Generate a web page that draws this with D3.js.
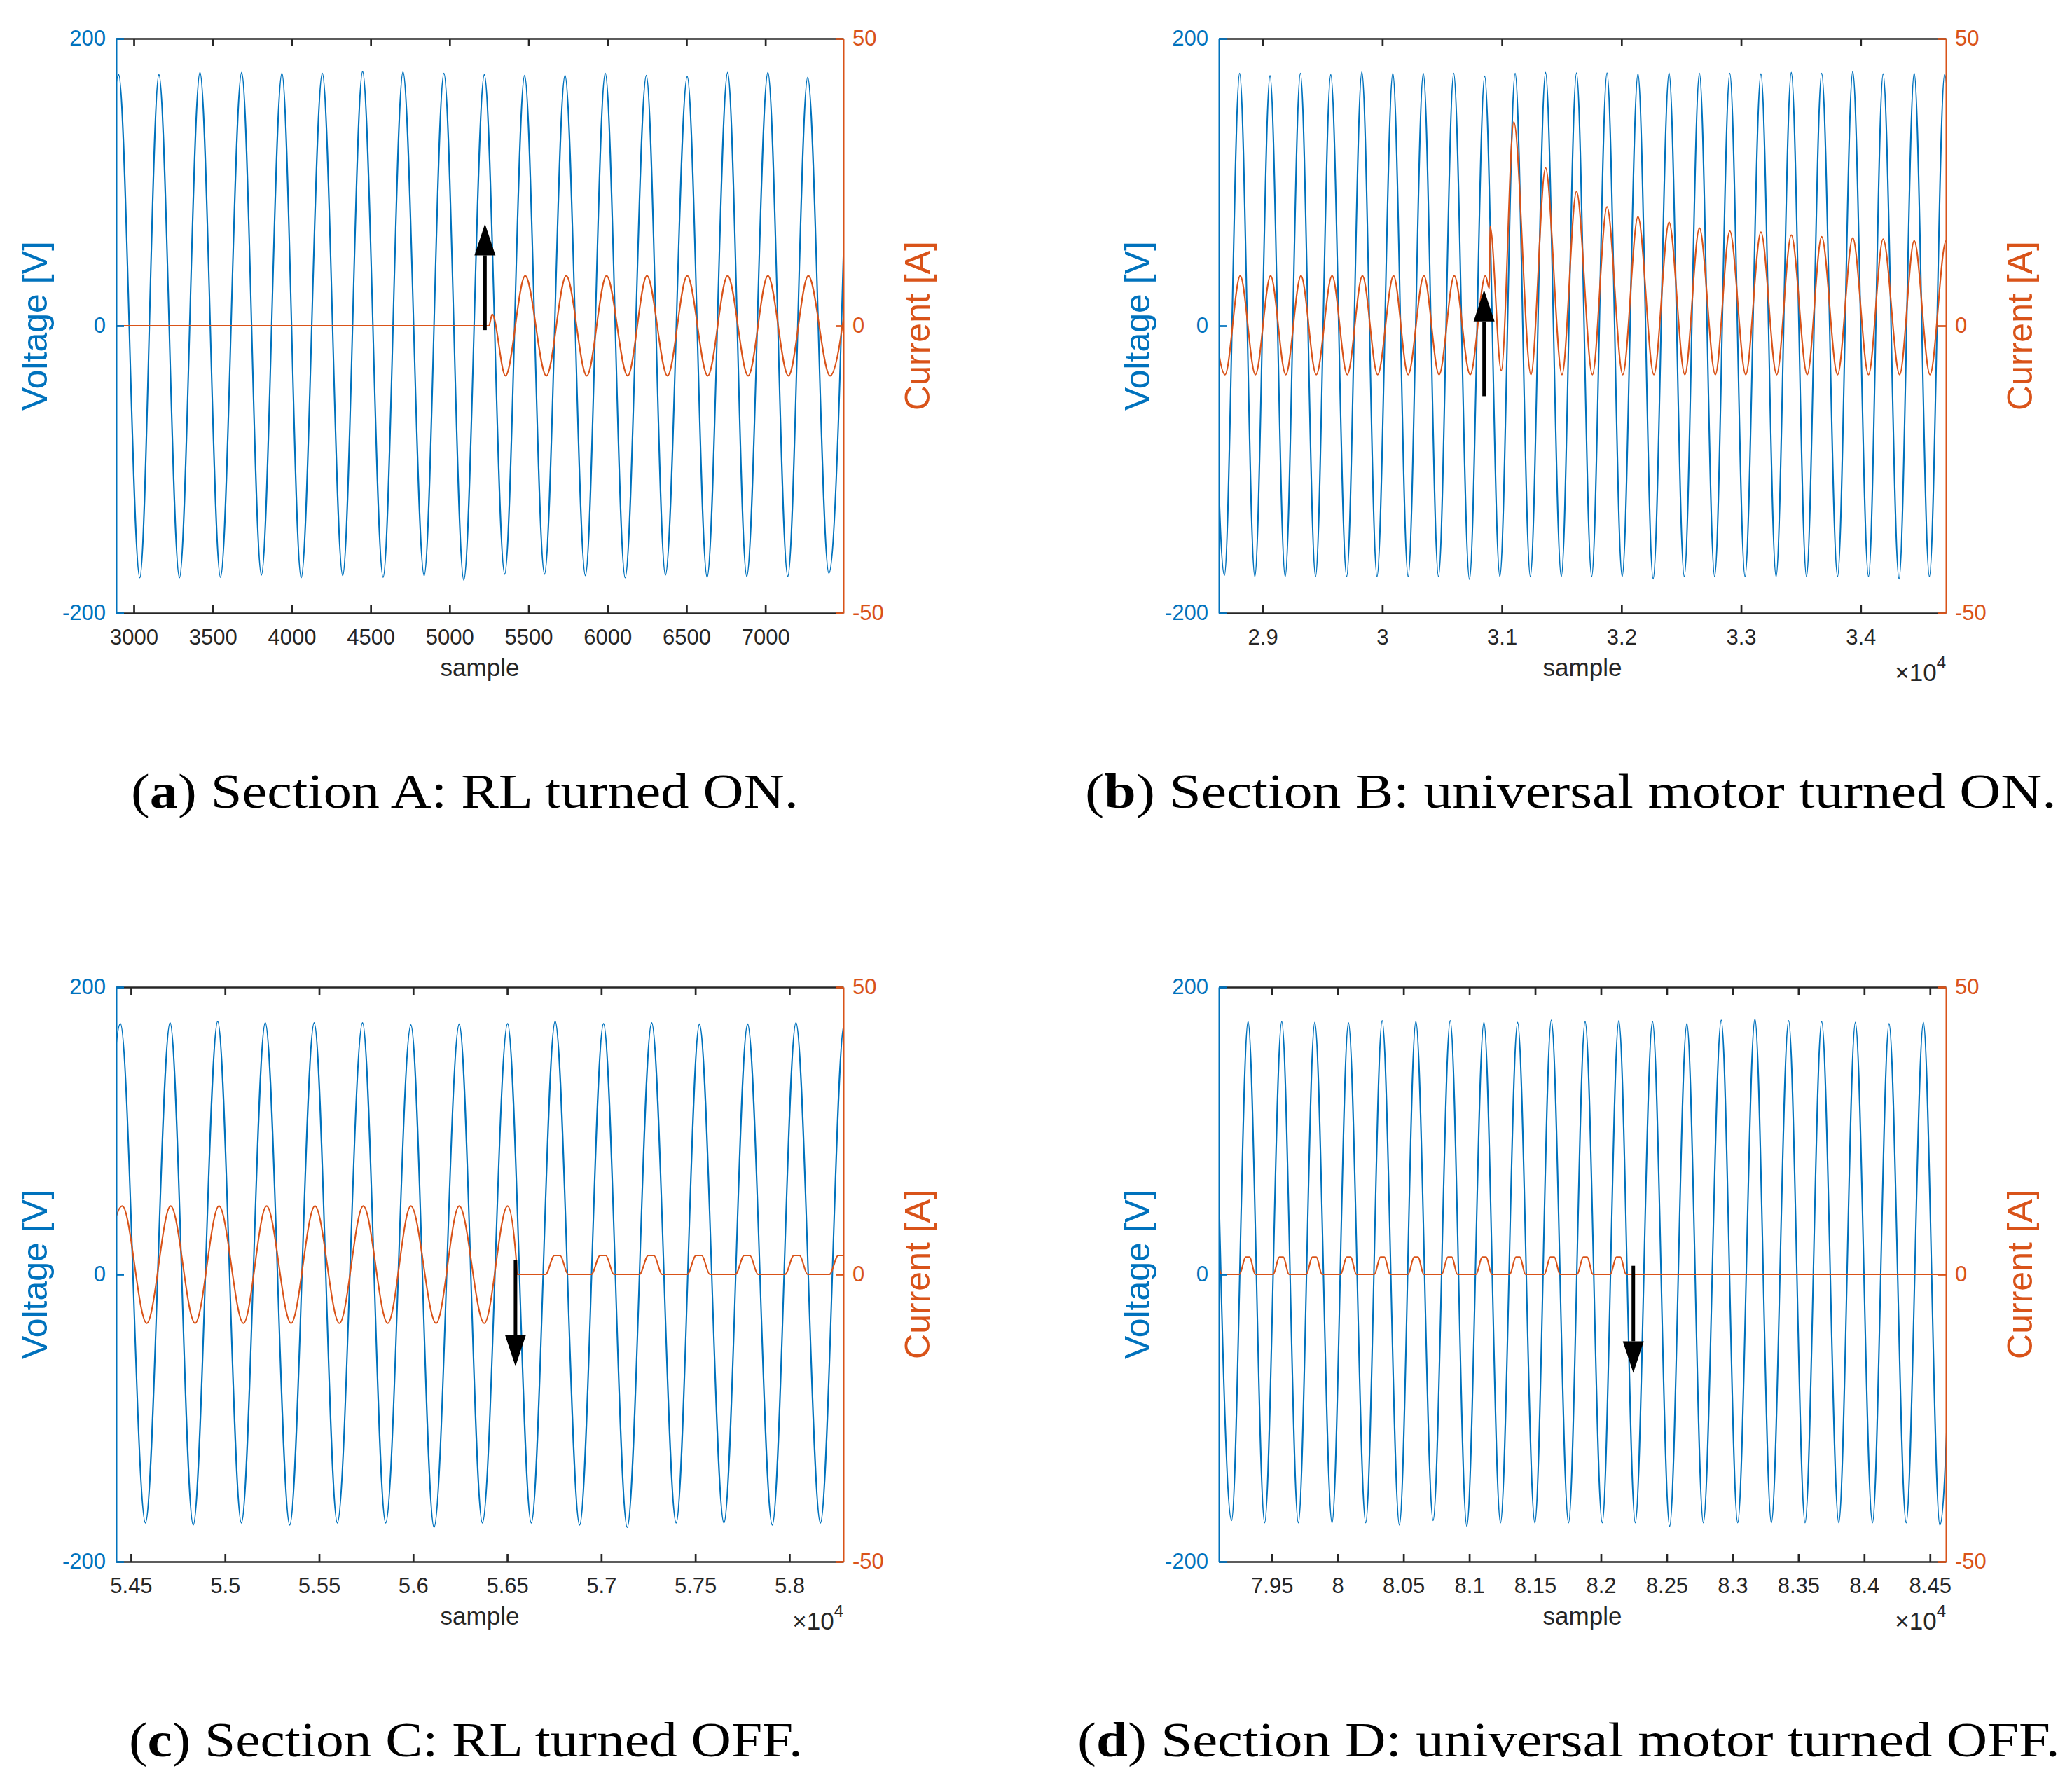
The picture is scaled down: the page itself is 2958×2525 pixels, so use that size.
<!DOCTYPE html>
<html><head><meta charset="utf-8">
<script src="https://cdn.jsdelivr.net/npm/d3@7"></script>
<style>html,body{margin:0;padding:0;background:#fff}</style>
</head><body>
<svg id="fig" width="2958" height="2525" xmlns="http://www.w3.org/2000/svg"></svg>
<script>
// ===================== DATA =====================
const captionLetters = ["a", "b", "c", "d"];
const captionTexts = ["Section A: RL turned ON.", "Section B: universal motor turned ON.",
  "Section C: RL turned OFF.", "Section D: universal motor turned OFF."];

const xDomainA = [2889, 7494], xDomainB = [28633, 34713], xDomainC = [54422, 58287], xDomainD = [79097, 84621];
const xTicksA = [3000, 3500, 4000, 4500, 5000, 5500, 6000, 6500, 7000];
const xTickLabelsA = ["3000", "3500", "4000", "4500", "5000", "5500", "6000", "6500", "7000"];
const xTicksB = [29000, 30000, 31000, 32000, 33000, 34000];
const xTickLabelsB = ["2.9", "3", "3.1", "3.2", "3.3", "3.4"];
const xTicksC = [54500, 55000, 55500, 56000, 56500, 57000, 57500, 58000];
const xTickLabelsC = ["5.45", "5.5", "5.55", "5.6", "5.65", "5.7", "5.75", "5.8"];
const xTicksD = [79500, 80000, 80500, 81000, 81500, 82000, 82500, 83000, 83500, 84000, 84500];
const xTickLabelsD = ["7.95", "8", "8.05", "8.1", "8.15", "8.2", "8.25", "8.3", "8.35", "8.4", "8.45"];
const xExponents = [null, "4", "4", "4"];

const voltDomain = [-200, 200], voltTicks = [-200, 0, 200], voltTickLabels = ["-200", "0", "200"];
const currDomain = [-50, 50], currTicks = [-50, 0, 50], currTickLabels = ["-50", "0", "50"];
const xLabel = "sample", voltLabel = "Voltage [V]", currLabel = "Current [A]";

// voltage extremes [sample, V]
const voltA = [[2776,-174],[2904,174.8],[3038,-175.4],[3159,174.8],[3289,-175.4],[3419,176.3],[3549,-175.1],
 [3683,176.3],[3808,-173.5],[3938,175.7],[4060,-175.4],[4194,175.7],[4323,-173.9],[4449,177.0],[4579,-175.1],
 [4705,176.7],[4839,-173.9],[4964,175.7],[5090,-177.0],[5220,174.8],[5349,-172.9],[5475,174.2],[5601,-172.9],
 [5731,174.2],[5860,-173.9],[5986,175.7],[6112,-175.4],[6246,174.2],[6367,-173.5],[6505,173.5],[6631,-175.1],
 [6761,176.3],[6882,-174.5],[7016,176.3],[7142,-174.5],[7268,172.9],[7402,-172.3],[7525,175]];
const currA = [[2889,0],[5249,0],[5270,2.0],[5354,-8.7],[5479,8.7],[5613,-8.7],[5739,8.7],[5869,-8.7],[5994,8.7],
 [6128,-8.7],[6250,8.7],[6380,-8.7],[6505,8.7],[6635,-8.7],[6761,8.7],[6891,-8.7],[7016,8.7],[7146,-8.7],
 [7272,8.7],[7410,-8.7],[7530,8.7]];

const voltB = [[28553,175],[28680,-173.7],[28807,175.7],[28934,-174.6],[29061,174.1],[29188,-174.6],[29315,175.7],
 [29442,-174.6],[29569,174.8],[29702,-174.6],[29829,176.7],[29956,-174.6],[30088,175.7],[30216,-174.6],
 [30343,175.7],[30470,-174.6],[30597,175.7],[30729,-176.5],[30856,173.8],[30983,-174.6],[31111,175.7],
 [31238,-174.6],[31365,176.3],[31497,-174.6],[31624,176.0],[31751,-174.6],[31879,176.0],[32006,-174.6],
 [32138,175.4],[32265,-176.2],[32398,176.0],[32525,-174.6],[32652,175.7],[32779,-174.6],[32906,175.7],
 [33033,-174.6],[33166,175.4],[33293,-174.6],[33420,176.3],[33547,-174.6],[33674,175.7],[33807,-174.6],
 [33934,177.0],[34066,-174.6],[34188,175.4],[34321,-176.2],[34448,175.7],[34575,-174.6],[34702,174.8],[34830,-174]];
const currB = [[28558,8.7],[28685,-8.5],[28812,8.7],[28939,-8.5],[29066,8.7],[29193,-8.5],[29320,8.7],[29448,-8.5],
 [29580,8.7],[29707,-8.5],[29834,8.7],[29961,-8.5],[30094,8.7],[30216,-8.5],[30348,8.7],[30475,-8.5],[30602,8.7],
 [30735,-8.5],[30862,8.7],[30895,6.5],[30901,17.3],[30995,-7.8],[31100,35.5],[31243,-8.5],[31365,27.5],
 [31503,-8.5],[31624,23.4],[31757,-8.5],[31879,20.7],[32011,-8.5],[32138,19.0],[32271,-8.5],[32398,18.0],
 [32530,-8.5],[32652,17.0],[32785,-8.5],[32906,16.5],[33039,-8.5],[33166,16.3],[33298,-8.5],[33420,15.8],
 [33553,-8.5],[33674,15.5],[33807,-8.5],[33934,15.3],[34066,-8.5],[34188,15.1],[34326,-8.5],[34448,14.8],
 [34580,-8.5],[34715,14.8],[34840,-8.5]];

const voltC = [[54317,-174],[54444,174.5],[54577,-173.0],[54708,175.1],[54831,-174.5],[54961,176.1],[55087,-173.0],
 [55214,175.1],[55344,-174.5],[55474,175.1],[55597,-173.0],[55731,175.1],[55854,-173.0],[55988,173.6],
 [56111,-176.1],[56245,174.2],[56368,-173.0],[56502,174.5],[56628,-173.0],[56755,176.1],[56885,-174.5],
 [57012,174.5],[57138,-176.1],[57268,175.1],[57398,-173.0],[57522,174.2],[57652,-173.0],[57778,174.2],
 [57909,-174.5],[58035,175.1],[58165,-173.0],[58292,174.5],[58420,-174]];
const currC = [[54328,-8.5],[54454,11.9],[54584,-8.5],[54711,11.9],[54841,-8.5],[54968,11.9],[55098,-8.5],
 [55221,11.9],[55351,-8.5],[55478,11.9],[55608,-8.5],[55735,11.9],[55865,-8.5],[55988,11.9],[56122,-8.5],
 [56245,11.9],[56378,-8.5],[56502,11.9],[56548,2.5],[56553,0],
 [56704,0],[56751,3.3],[56781,3.3],[56824,0],
 [56947,0],[56994,3.3],[57024,3.3],[57067,0],
 [57203,0],[57250,3.3],[57280,3.3],[57323,0],
 [57457,0],[57504,3.3],[57534,3.3],[57577,0],
 [57713,0],[57760,3.3],[57790,3.3],[57833,0],
 [57977,0],[58024,3.3],[58054,3.3],[58097,0],
 [58213,0],[58260,3.3],[58290,3.3],[58333,0]];

const voltD = [[79068,175],[79194,-171.3],[79319,176.0],[79445,-172.9],[79575,176.0],[79701,-172.9],[79826,175.4],
 [79957,-172.9],[80082,175.1],[80213,-172.9],[80338,176.6],[80469,-174.5],[80594,176.0],[80725,-171.3],
 [80855,176.6],[80981,-175.4],[81111,175.4],[81237,-172.9],[81367,175.4],[81498,-172.9],[81623,176.9],
 [81754,-172.9],[81880,176.0],[82010,-172.9],[82136,176.6],[82261,-172.9],[82392,176.0],[82522,-175.4],
 [82653,174.5],[82778,-172.9],[82914,176.9],[83039,-172.9],[83170,177.6],[83295,-172.9],[83426,176.6],
 [83551,-172.9],[83677,176.0],[83807,-172.9],[83933,175.4],[84063,-172.9],[84189,174.5],[84319,-172.9],
 [84450,175.4],[84575,-174.5],[84712,175]];
const currD = [[78998,0],[79045,3.0],[79075,3.0],[79118,0],
 [79254,0],[79301,3.0],[79331,3.0],[79374,0],
 [79510,0],[79557,3.0],[79587,3.0],[79630,0],
 [79761,0],[79808,3.0],[79838,3.0],[79881,0],
 [80022,0],[80069,3.0],[80099,3.0],[80142,0],
 [80278,0],[80325,3.0],[80355,3.0],[80398,0],
 [80534,0],[80581,3.0],[80611,3.0],[80654,0],
 [80790,0],[80837,3.0],[80867,3.0],[80910,0],
 [81051,0],[81098,3.0],[81128,3.0],[81171,0],
 [81307,0],[81354,3.0],[81384,3.0],[81427,0],
 [81569,0],[81616,3.0],[81646,3.0],[81689,0],
 [81819,0],[81866,3.0],[81896,3.0],[81939,0],
 [82071,0],[82118,3.0],[82148,3.0],[82191,0],[84621,0]];

// event arrows: sample position, start voltage, tip voltage
const arrowX = [5224, 30851, 56544, 82246];
const arrowFrom = [-3, -49, 10, 6];
const arrowTo = [71, 25, -64, -68.5];

// ===================== LAYOUT / STYLE =====================
const BLUE = "#0072BD", ORANGE = "#D95319", AX = "#262626";
const SANS = "'Liberation Sans', Arial, Helvetica, sans-serif";
const SERIF = "'Liberation Serif', 'Times New Roman', serif";
const boxes = [[166, 55, 1204, 875], [1740, 55, 2778, 875], [166, 1409, 1204, 2229], [1740, 1409, 2778, 2229]];
const captionPos = [[187, 1153, 953], [1549, 1153, 1387], [184, 2507, 962], [1538, 2507, 1403]];

const panelData = [
  {xd: xDomainA, xt: xTicksA, xl: xTickLabelsA, v: voltA, c: currA},
  {xd: xDomainB, xt: xTicksB, xl: xTickLabelsB, v: voltB, c: currB},
  {xd: xDomainC, xt: xTicksC, xl: xTickLabelsC, v: voltC, c: currC},
  {xd: xDomainD, xt: xTicksD, xl: xTickLabelsD, v: voltD, c: currD}
];

const svg = d3.select("#fig");
svg.append("rect").attr("width", 2958).attr("height", 2525).attr("fill", "#fff");
const defs = svg.append("defs");

panelData.forEach((p, i) => {
  const [L, T, R, B] = boxes[i];
  const x = d3.scaleLinear().domain(p.xd).range([L, R]);
  const yV = d3.scaleLinear().domain(voltDomain).range([B, T]);
  const yC = d3.scaleLinear().domain(currDomain).range([B, T]);
  const g = svg.append("g");

  defs.append("clipPath").attr("id", "clip" + i).append("rect")
    .attr("x", L).attr("y", T).attr("width", R - L).attr("height", B - T);

  const data = g.append("g").attr("clip-path", `url(#clip${i})`);
  data.append("path").datum(p.v)
    .attr("d", d3.line().x(d => x(d[0])).y(d => yV(d[1])).curve(d3.curveMonotoneX))
    .attr("fill", "none").attr("stroke", BLUE).attr("stroke-width", 2.1).attr("stroke-linejoin", "round");
  data.append("path").datum(p.c)
    .attr("d", d3.line().x(d => x(d[0])).y(d => yC(d[1])).curve(d3.curveMonotoneX))
    .attr("fill", "none").attr("stroke", ORANGE).attr("stroke-width", 2.1).attr("stroke-linejoin", "round");

  // arrow
  const ax = x(arrowX[i]), y0 = yV(arrowFrom[i]), y1 = yV(arrowTo[i]);
  const dir = y1 < y0 ? 1 : -1; // 1 = upward
  const headL = 45, headW = 15;
  const base = y1 + dir * headL;
  g.append("line").attr("x1", ax).attr("x2", ax).attr("y1", y0).attr("y2", base)
    .attr("stroke", "#000").attr("stroke-width", 5);
  g.append("path").attr("d", `M${ax},${y1}L${ax - headW},${base}L${ax + headW},${base}Z`).attr("fill", "#000");

  // axes
  function style(sel, color, domW, fs) {
    sel.attr("font-family", SANS).attr("font-size", fs);
    sel.select(".domain").attr("stroke", color).attr("stroke-width", domW);
    sel.selectAll(".tick line").attr("stroke", color).attr("stroke-width", 2.7);
    sel.selectAll(".tick text").attr("fill", color);
  }
  const xb = g.append("g").attr("transform", `translate(0,${B})`)
    .call(d3.axisBottom(x).tickValues(p.xt).tickFormat((d, k) => p.xl[k]).tickSizeInner(-11).tickSizeOuter(0).tickPadding(23));
  style(xb, AX, 2.7, 31);
  const xtp = g.append("g").attr("transform", `translate(0,${T})`)
    .call(d3.axisTop(x).tickValues(p.xt).tickFormat("").tickSizeInner(-11).tickSizeOuter(0));
  style(xtp, AX, 2.7, 31);
  const yl = g.append("g").attr("transform", `translate(${L},0)`)
    .call(d3.axisLeft(yV).tickValues(voltTicks).tickFormat((d, k) => voltTickLabels[k]).tickSizeInner(-11).tickSizeOuter(0).tickPadding(15));
  style(yl, BLUE, 2, 31);
  const yr = g.append("g").attr("transform", `translate(${R},0)`)
    .call(d3.axisRight(yC).tickValues(currTicks).tickFormat((d, k) => currTickLabels[k]).tickSizeInner(-11).tickSizeOuter(0).tickPadding(13));
  style(yr, ORANGE, 2, 31);

  // axis labels
  g.append("text").attr("x", (L + R) / 2).attr("y", B + 90).attr("text-anchor", "middle")
    .attr("font-family", SANS).attr("font-size", 35).attr("fill", AX).text(xLabel);
  g.append("text").attr("transform", `translate(${L - 99},${(T + B) / 2}) rotate(-90)`).attr("text-anchor", "middle")
    .attr("font-family", SANS).attr("font-size", 50).attr("fill", BLUE).text(voltLabel);
  g.append("text").attr("transform", `translate(${R + 123},${(T + B) / 2}) rotate(-90)`).attr("text-anchor", "middle")
    .attr("font-family", SANS).attr("font-size", 50).attr("fill", ORANGE).text(currLabel);

  if (xExponents[i]) {
    const e = g.append("text").attr("x", R).attr("y", B + 97).attr("text-anchor", "end")
      .attr("font-family", SANS).attr("font-size", 35).attr("fill", AX);
    e.append("tspan").text("\u00d710");
    e.append("tspan").attr("font-size", 24).attr("dy", -18).text(xExponents[i]);
  }

  // caption
  const [cx, cy, cw] = captionPos[i];
  const ct = svg.append("text").attr("font-family", SERIF).attr("font-size", 70).attr("fill", "#000");
  ct.append("tspan").text("(");
  ct.append("tspan").attr("font-weight", "bold").text(captionLetters[i]);
  ct.append("tspan").text(") " + captionTexts[i]);
  const w = ct.node().getBBox().width;
  ct.attr("transform", `translate(${cx},${cy}) scale(${cw / w},1)`);
});
</script>
</body></html>
